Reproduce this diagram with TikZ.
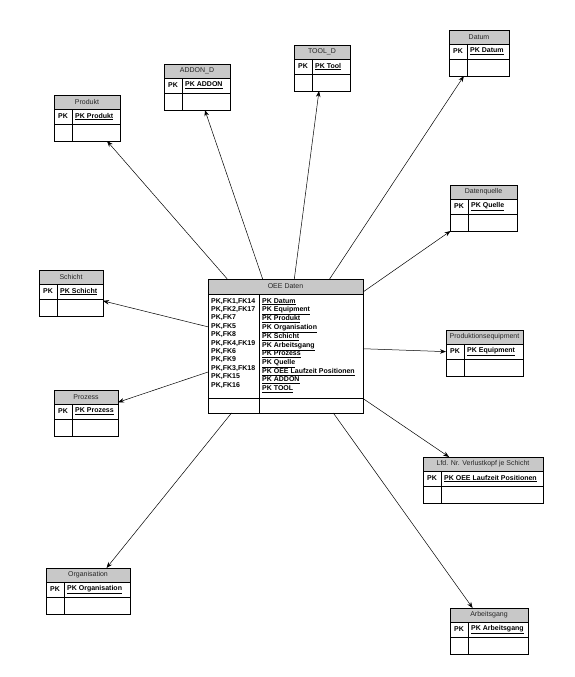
\documentclass[tikz,border=0pt]{standalone}
\usepackage{fontspec}
\setmainfont{Liberation Sans}
\usetikzlibrary{arrows.meta}
\definecolor{headfill}{RGB}{200,200,200}
\tikzset{
  tabframe/.style={inner sep=0pt, outer sep=0pt, minimum height=46pt},
  frame/.style={line width=0.8pt},
  headtxt/.style={font=\fontsize{7}{8}\selectfont, text=black!85, inner sep=0pt},
  pktxt/.style={font=\fontsize{7}{8}\selectfont\bfseries, inner sep=0pt},
  keytxt/.style={font=\fontsize{7}{8}\selectfont\bfseries, inner sep=0pt},
  listtxt/.style={font=\fontsize{7}{8.4}\selectfont\bfseries, align=left, inner sep=0pt, anchor=north west},
  conn/.style={-{Stealth[length=6pt,width=4.5pt]}, line width=0.5pt}
}
\newcommand{\enttab}[6]{%
  \node[tabframe, minimum width=#4pt, anchor=north west] (#1) at (#2,#3) {};
  \fill[headfill] (#1.north west) rectangle ([yshift=-14pt]#1.north east);
  \draw[frame] (#1.north west) rectangle (#1.south east);
  \draw[frame] ([yshift=-14pt]#1.north west) -- ([yshift=-14pt]#1.north east);
  \draw[frame] ([yshift=-29pt]#1.north west) -- ([yshift=-29pt]#1.north east);
  \draw[frame] ([xshift=18pt,yshift=-14pt]#1.north west) -- ([xshift=18pt]#1.south west);
  \node[headtxt] (#1-head) at ([yshift=-7pt]#1.north) {#5};
  \node[pktxt] (#1-pk) at ([xshift=9pt,yshift=-21.5pt]#1.north west) {PK};
  \node[keytxt, anchor=west] (#1-key) at ([xshift=21pt,yshift=-21.5pt]#1.north west) {\underline{#6}};
}
\begin{document}
\begin{tikzpicture}[x=1pt, y=-1pt]
    \useasboundingbox (0,0) rectangle (574,677);
    \enttab{produkt}{54}{95}{66}{Produkt}{PK Produkt}
    \enttab{addon}{164}{64}{66}{ADDON\_D}{PK ADDON}
    \enttab{tool}{294}{45}{56}{TOOL\_D}{PK Tool}
    \enttab{datum}{449}{30}{60}{Datum}{PK Datum}
    \enttab{quelle}{450}{185}{67}{Datenquelle}{PK Quelle}
    \enttab{schicht}{39}{270}{64}{Schicht}{PK Schicht}
    \enttab{equip}{446}{330}{77}{Produktionsequipment}{PK Equipment}
    \enttab{prozess}{54}{390}{64}{Prozess}{PK Prozess}
    \enttab{verlust}{423}{457}{120}{Lfd. Nr. Verlustkopf je Schicht}{PK OEE Laufzeit Positionen}
    \enttab{orga}{46}{568}{84}{Organisation}{PK Organisation}
    \enttab{arbeit}{450}{608}{78}{Arbeitsgang}{PK Arbeitsgang}
    \node[tabframe, minimum width=155pt, minimum height=134pt, anchor=north west] (oee) at (208,279) {};
    \fill[headfill] (oee.north west) rectangle ([yshift=-15pt]oee.north east);
    \draw[frame] (oee.north west) rectangle (oee.south east);
    \draw[frame] ([yshift=-15pt]oee.north west) -- ([yshift=-15pt]oee.north east);
    \draw[frame] ([yshift=15pt]oee.south west) -- ([yshift=15pt]oee.south east);
    \draw[frame] ([xshift=51pt,yshift=-15pt]oee.north west) -- ([xshift=51pt]oee.south west);
    \node[headtxt] (oee-head) at ([yshift=-7.5pt]oee.north) {OEE Daten};
    \node[listtxt] (oee-fk) at (211,298) {PK,FK1,FK14\\PK,FK2,FK17\\PK,FK7\\PK,FK5\\PK,FK8\\PK,FK4,FK19\\PK,FK6\\PK,FK9\\PK,FK3,FK18\\PK,FK15\\PK,FK16};
    \node[listtxt] (oee-pk) at (262,298) {\underline{PK Datum}\\\underline{PK Equipment}\\\underline{PK Produkt}\\\underline{PK Organisation}\\\underline{PK Schicht}\\\underline{PK Arbeitsgang}\\\underline{PK Prozess}\\\underline{PK Quelle}\\\underline{PK OEE Laufzeit Positionen}\\\underline{PK ADDON}\\\underline{PK TOOL}};
    \draw[conn] (oee) -- (produkt);
    \draw[conn] (oee) -- (addon);
    \draw[conn] (oee) -- (tool);
    \draw[conn] (oee) -- (datum);
    \draw[conn] (oee) -- (quelle);
    \draw[conn] (oee) -- (schicht);
    \draw[conn] (oee) -- (equip);
    \draw[conn] (oee) -- (prozess);
    \draw[conn] (oee) -- (verlust);
    \draw[conn] (oee) -- (orga);
    \draw[conn] (oee) -- (arbeit);
\end{tikzpicture}
\end{document}
